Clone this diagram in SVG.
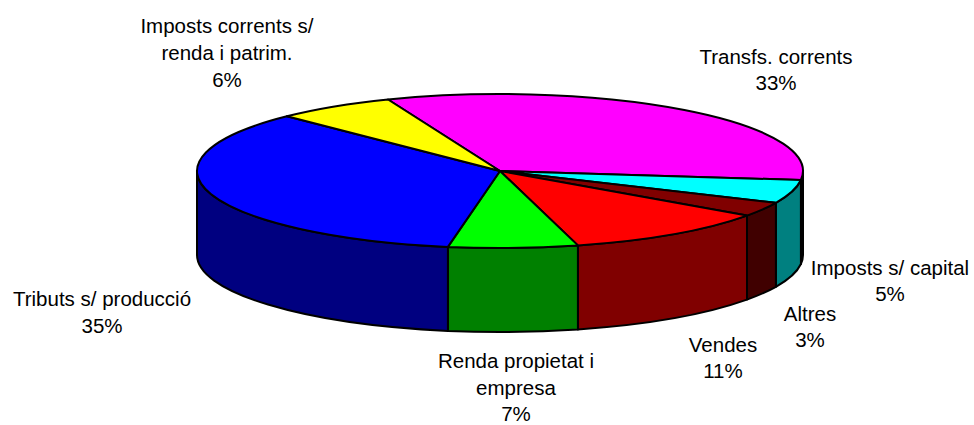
<svg xmlns="http://www.w3.org/2000/svg" width="974" height="425" viewBox="0 0 974 425">
<style>
.s{stroke:#000;stroke-width:2;stroke-linejoin:round}
.t{font-family:"Liberation Sans",Arial,sans-serif;font-size:20.5px;fill:#000;text-anchor:middle}
</style>
<rect width="974" height="425" fill="#fff"/>
<g id="walls">
<path class="s" fill="#800080" d="M803,171 A303,77 0 0 1 800.9,180 L800.9,264 A303,77 0 0 0 803,255 Z"/>
<path class="s" fill="#008080" d="M800.9,180 A303,77 0 0 1 775.9,202.8 L775.9,286.8 A303,77 0 0 0 800.9,264 Z"/>
<path class="s" fill="#400000" d="M775.9,202.8 A303,77 0 0 1 747,215.6 L747,299.6 A303,77 0 0 0 775.9,286.8 Z"/>
<path class="s" fill="#800000" d="M747,215.6 A303,77 0 0 1 577.9,245.4 L577.9,329.4 A303,77 0 0 0 747,299.6 Z"/>
<path class="s" fill="#008000" d="M577.9,245.4 A303,77 0 0 1 447.9,246.9 L447.9,330.9 A303,77 0 0 0 577.9,329.4 Z"/>
<path class="s" fill="#000080" d="M447.9,246.9 A303,77 0 0 1 197,171 L197,255 A303,77 0 0 0 447.9,330.9 Z"/>
</g>
<g id="transfs-corrents">
<path class="s" fill="#FF00FF" d="M500,171 L388,99.5 A303,77 0 0 1 800.9,180 Z"/>
<text class="t" x="776" y="64">Transfs. corrents</text>
<text class="t" x="776" y="90">33%</text>
</g>
<g id="imposts-capital">
<path class="s" fill="#00FFFF" d="M500,171 L800.9,180 A303,77 0 0 1 775.9,202.8 Z"/>
<text class="t" x="890" y="275">Imposts s/ capital</text>
<text class="t" x="890" y="301">5%</text>
</g>
<g id="altres">
<path class="s" fill="#800000" d="M500,171 L775.9,202.8 A303,77 0 0 1 747,215.6 Z"/>
<text class="t" x="810" y="321">Altres</text>
<text class="t" x="810" y="347">3%</text>
</g>
<g id="vendes">
<path class="s" fill="#FF0000" d="M500,171 L747,215.6 A303,77 0 0 1 577.9,245.4 Z"/>
<text class="t" x="723" y="352">Vendes</text>
<text class="t" x="723" y="378">11%</text>
</g>
<g id="renda-propietat">
<path class="s" fill="#00FF00" d="M500,171 L577.9,245.4 A303,77 0 0 1 447.9,246.9 Z"/>
<text class="t" x="516" y="368">Renda propietat i</text>
<text class="t" x="516" y="395">empresa</text>
<text class="t" x="516" y="421">7%</text>
</g>
<g id="tributs-produccio">
<path class="s" fill="#0000FF" d="M500,171 L447.9,246.9 A303,77 0 0 1 286.9,116.3 Z"/>
<text class="t" x="102" y="306">Tributs s/ producció</text>
<text class="t" x="102" y="333">35%</text>
</g>
<g id="imposts-corrents">
<path class="s" fill="#FFFF00" d="M500,171 L286.9,116.3 A303,77 0 0 1 388,99.5 Z"/>
<text class="t" x="227" y="33">Imposts corrents s/</text>
<text class="t" x="227" y="60">renda i patrim.</text>
<text class="t" x="227" y="87">6%</text>
</g>
<g id="connectors"/>
</svg>
